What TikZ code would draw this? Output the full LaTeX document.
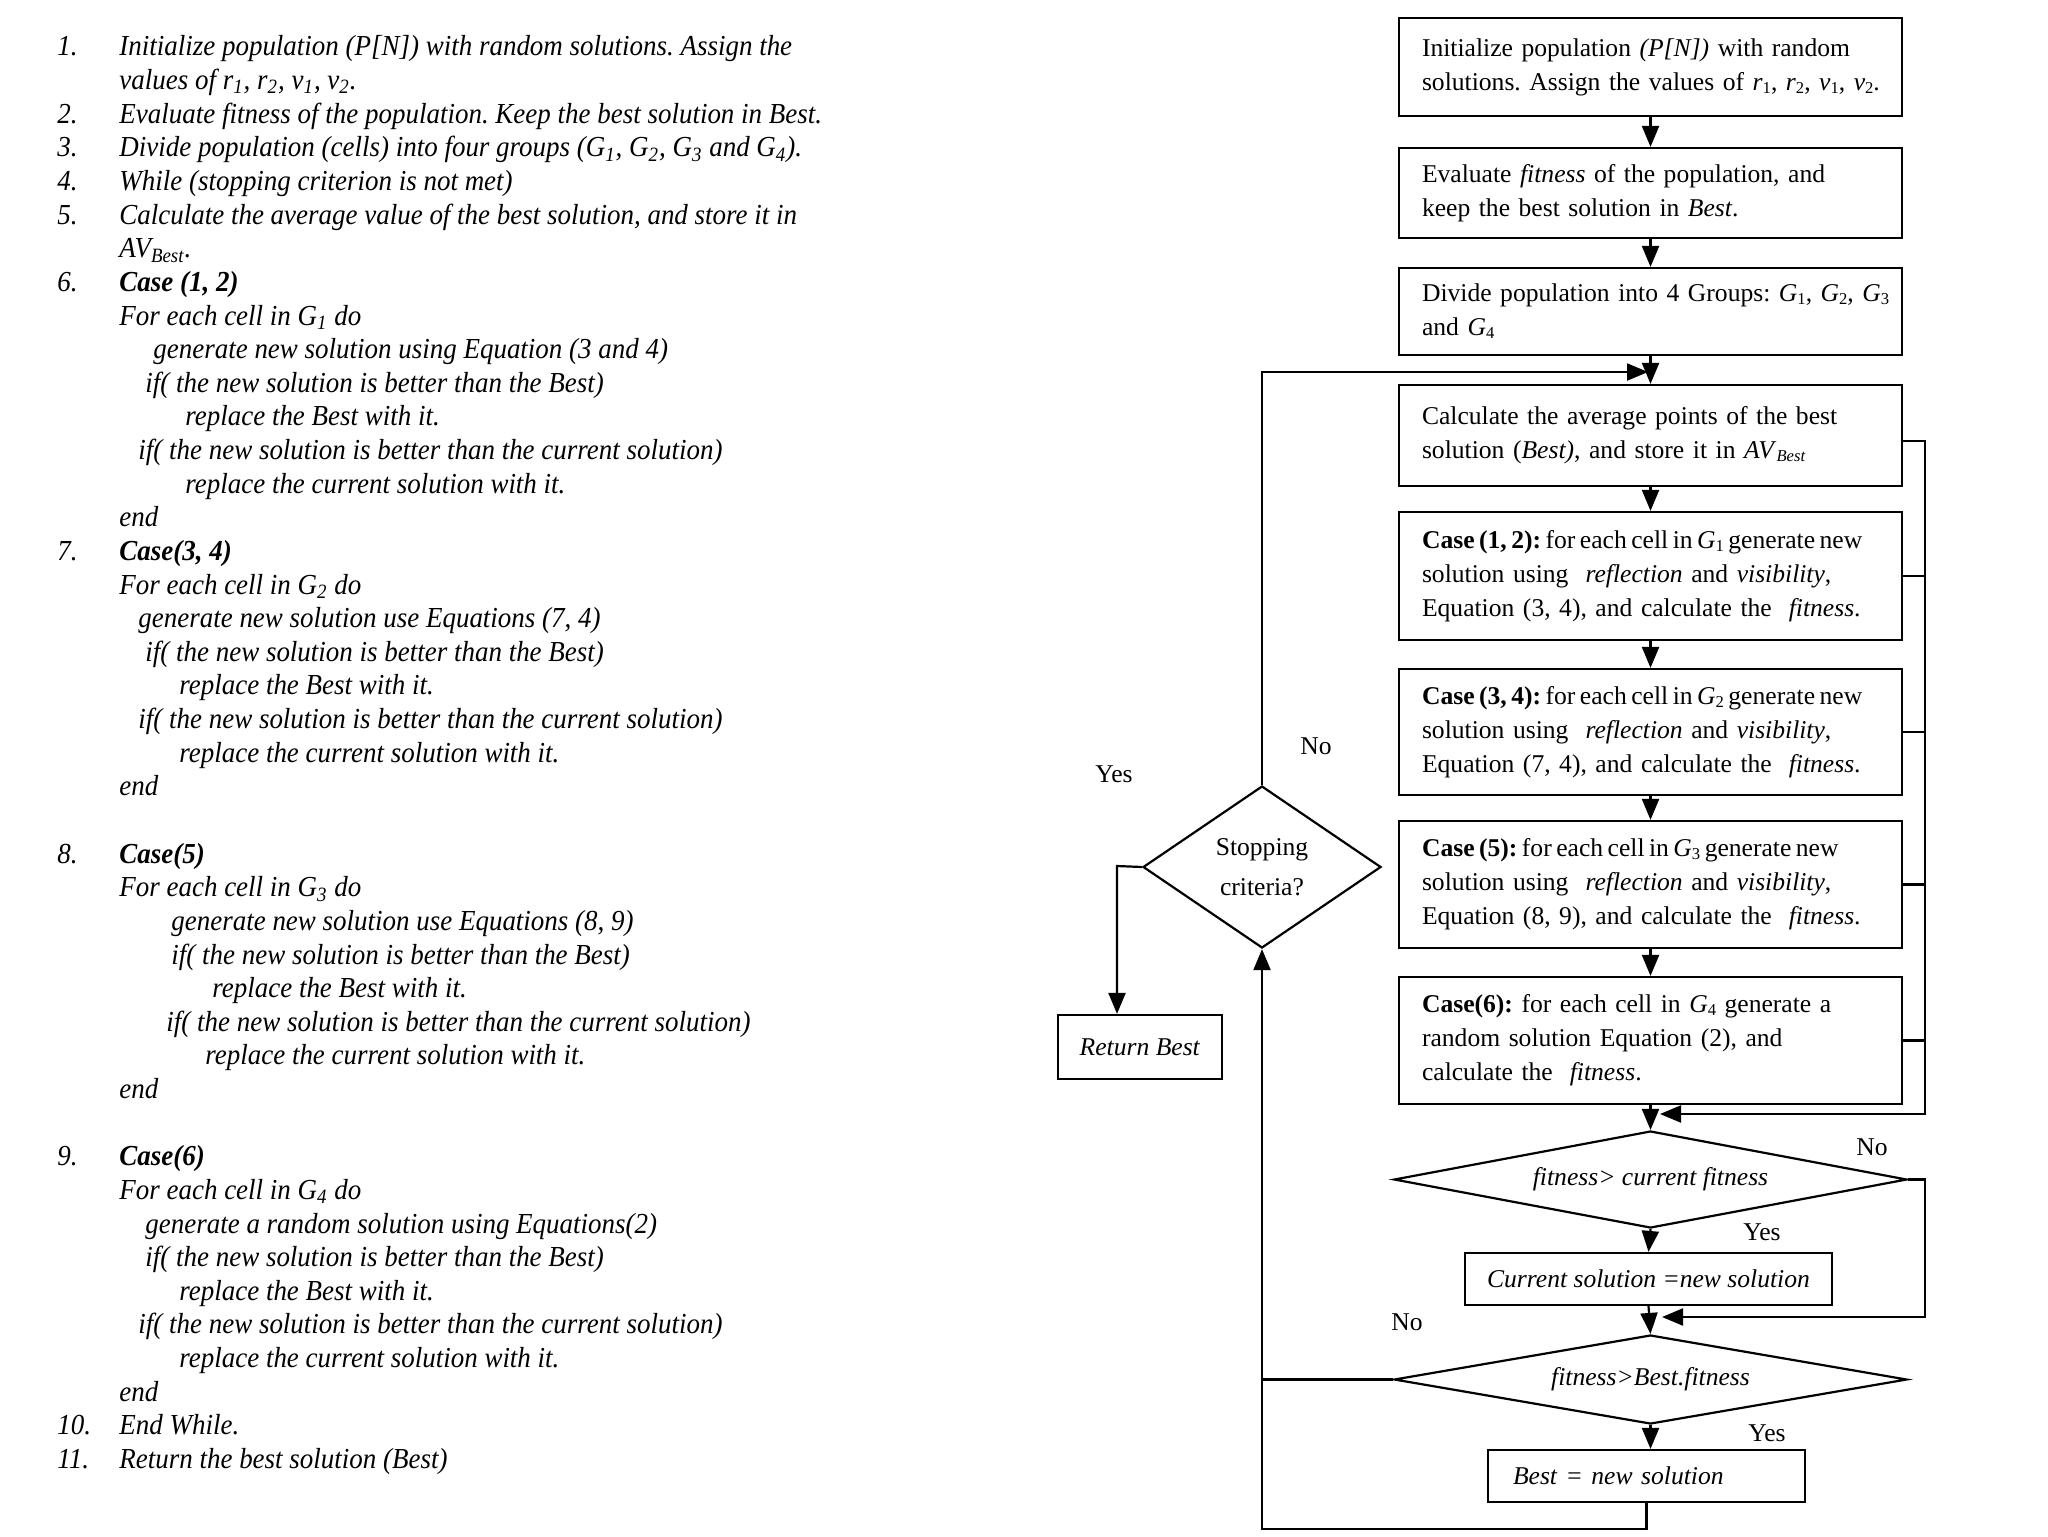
\documentclass[tikz,border=0pt]{standalone}
\usepackage{fontspec}
\setmainfont{Liberation Serif}
\newfontfamily\algfont[FakeStretch=0.93]{Liberation Serif}
\usetikzlibrary{arrows.meta,shapes.geometric}
\frenchspacing
\newcommand\zl[1]{\leavevmode\rlap{#1}}
\newcommand\tl[1]{\leavevmode\rlap{\spaceskip=0.7\fontdimen2\font plus 0.1\fontdimen2\font\relax #1}}
\newcommand\sbs[1]{\raisebox{-0.25ex}{\fontsize{8.3}{9}\selectfont #1}}
\newcommand\AL[3]{\node[alg] (l#1) at (#2,{56+33.63*#1}) {#3};}
\newcommand\AN[2]{\node[alg] (n#1) at (57,{56+33.63*#1}) {#2};}
\tikzset{
  alg/.style={font=\algfont\fontsize{14.5}{16.8}\selectfont\itshape, inner sep=0pt, anchor=base west},
  fc/.style={font=\fontsize{12.8}{17}\selectfont},
  box/.style={fc, draw, line width=1.1pt, text width=228.5pt, inner xsep=11.5pt, align=left},
  sbox/.style={fc, draw, line width=1.1pt, align=center},
  dia/.style={fc, draw, diamond, inner sep=0pt, line width=1.1pt, align=center},
  lab/.style={fc, inner sep=0pt},
  arr/.style={line width=1.1pt, -{Triangle[length=10.5pt,width=8.5pt]}},
  ln/.style={line width=1.1pt},
}
\begin{document}
\begin{tikzpicture}[x=0.5pt,y=-0.5pt]
\useasboundingbox (0,0) rectangle (2048,1536);
\fill[white] (0,0) rectangle (2048,1536);

% ---------------- left: algorithm text ----------------
\AN{0}{1.}\AL{0}{119}{Initialize population (P[N]) with random solutions. Assign the}
\AL{1}{119}{values of r\textsubscript{1}, r\textsubscript{2}, v\textsubscript{1}, v\textsubscript{2}.}
\AN{2}{2.}\AL{2}{119}{Evaluate fitness of the population. Keep the best solution in Best.}
\AN{3}{3.}\AL{3}{119}{Divide population (cells) into four groups (G\textsubscript{1}, G\textsubscript{2}, G\textsubscript{3} and G\textsubscript{4}).}
\AN{4}{4.}\AL{4}{119}{While (stopping criterion is not met)}
\AN{5}{5.}\AL{5}{119}{Calculate the average value of the best solution, and store it in}
\AL{6}{119}{AV\textsubscript{Best}.}
\AN{7}{6.}\AL{7}{119}{\bfseries Case (1, 2)}
\AL{8}{119}{For each cell in G\textsubscript{1} do}
\AL{9}{153}{generate new solution using Equation (3 and 4)}
\AL{10}{145}{if( the new solution is better than the Best)}
\AL{11}{185}{replace the Best with it.}
\AL{12}{138}{if( the new solution is better than the current solution)}
\AL{13}{185}{replace the current solution with it.}
\AL{14}{119}{end}
\AN{15}{7.}\AL{15}{119}{\bfseries Case(3, 4)}
\AL{16}{119}{For each cell in G\textsubscript{2} do}
\AL{17}{138}{generate new solution use Equations (7, 4)}
\AL{18}{145}{if( the new solution is better than the Best)}
\AL{19}{179}{replace the Best with it.}
\AL{20}{138}{if( the new solution is better than the current solution)}
\AL{21}{179}{replace the current solution with it.}
\AL{22}{119}{end}
\AN{24}{8.}\AL{24}{119}{\bfseries Case(5)}
\AL{25}{119}{For each cell in G\textsubscript{3} do}
\AL{26}{171}{generate new solution use Equations (8, 9)}
\AL{27}{171}{if( the new solution is better than the Best)}
\AL{28}{212}{replace the Best with it.}
\AL{29}{166}{if( the new solution is better than the current solution)}
\AL{30}{205}{replace the current solution with it.}
\AL{31}{119}{end}
\AN{33}{9.}\AL{33}{119}{\bfseries Case(6)}
\AL{34}{119}{For each cell in G\textsubscript{4} do}
\AL{35}{145}{generate a random solution using Equations(2)}
\AL{36}{145}{if( the new solution is better than the Best)}
\AL{37}{179}{replace the Best with it.}
\AL{38}{138}{if( the new solution is better than the current solution)}
\AL{39}{179}{replace the current solution with it.}
\AL{40}{119}{end}
\AN{41}{10.}\AL{41}{119}{End While.}
\AN{42}{11.}\AL{42}{119}{Return the best solution (Best)}

% ---------------- right: flowchart ----------------
\node[box, minimum height=49pt] (b1) at (1650.5,67)
  {\zl{Initialize population \textit{(P[N])} with random}\\
   \zl{solutions. Assign the values of \textit{r}\sbs{1}, \textit{r}\sbs{2}, \textit{v}\sbs{1}, \textit{v}\sbs{2}.}};
\node[box, minimum height=45pt] (b2) at (1650.5,193)
  {\zl{Evaluate \textit{fitness} of the population, and}\\
   \zl{keep the best solution in \textit{Best}.}};
\node[box, minimum height=43.5pt] (b3) at (1650.5,311.5)
  {\zl{Divide population into 4 Groups: \textit{G}\sbs{1}, \textit{G}\sbs{2}, \textit{G}\sbs{3}}\\
   \zl{and \textit{G}\sbs{4}}};
\node[box, minimum height=50.5pt] (b4) at (1650.5,435.5)
  {\zl{Calculate the average points of the best}\\
   \zl{solution (\textit{Best)}, and store it in \textit{AV}\sbs{\textit{Best}}}};
\node[box, minimum height=64pt] (b5) at (1650.5,576)
  {\tl{\textbf{Case (1, 2):} for each cell in \textit{G}\sbs{1} generate new}\\
   \zl{solution using \ \textit{reflection} and \textit{visibility},}\\
   \zl{Equation (3, 4), and calculate the \ \textit{fitness}.}};
\node[box, minimum height=63pt] (b6) at (1650.5,732)
  {\tl{\textbf{Case (3, 4):} for each cell in \textit{G}\sbs{2} generate new}\\
   \zl{solution using \ \textit{reflection} and \textit{visibility},}\\
   \zl{Equation (7, 4), and calculate the \ \textit{fitness}.}};
\node[box, minimum height=63.5pt] (b7) at (1650.5,884.5)
  {\tl{\textbf{Case (5):} for each cell in \textit{G}\sbs{3} generate new}\\
   \zl{solution using \ \textit{reflection} and \textit{visibility},}\\
   \zl{Equation (8, 9), and calculate the \ \textit{fitness}.}};
\node[box, minimum height=63.5pt] (b8) at (1650.5,1040.5)
  {\zl{\textbf{Case(6):} for each cell in \textit{G}\sbs{4} generate a}\\
   \zl{random solution Equation (2), and}\\
   \zl{calculate the \ \textit{fitness}.}};

\node[dia, minimum width=256.5pt, minimum height=48.5pt, aspect=5.3] (d1) at (1650.5,1179.5)
  {\textit{fitness> current fitness}};
\node[sbox, minimum width=183.5pt, minimum height=26pt] (cur) at (1648.5,1279)
  {\textit{Current solution =new solution}};
\node[dia, minimum width=256.5pt, minimum height=44.5pt, aspect=5.7] (d2) at (1650.5,1379.5)
  {\textit{fitness>Best.fitness}};
\node[fc, draw, line width=1.1pt, minimum height=26pt, text width=133.5pt, inner xsep=12.5pt, align=left] (best) at (1646.5,1476)
  {\textit{Best = new solution}};

\node[dia, minimum width=119pt, minimum height=81pt, aspect=1.47, font=\fontsize{12.8}{20}\selectfont] (stop) at (1262,867)
  {Stopping\\criteria?};
\node[sbox, minimum width=82pt, minimum height=32pt] (ret) at (1140,1047)
  {\textit{Return Best}};

% labels
\node[lab] (yes0) at (1114,774) {Yes};
\node[lab] (no0) at (1316,746) {No};
\node[lab] (no1) at (1872,1147) {No};
\node[lab] (yes1) at (1762,1232) {Yes};
\node[lab] (no2) at (1407,1322) {No};
\node[lab] (yes2) at (1767,1433) {Yes};

% helper coordinates
\coordinate (lt) at (1648,372);
\coordinate (r4) at (1925,441);
\coordinate (m1) at (1925,1114);
\coordinate (m1t) at (1660,1114);
\coordinate (m2) at (1925,1317);
\coordinate (m2t) at (1662,1317);
\coordinate (bl) at (1262,1529);
\coordinate (sl) at (1117,866);

% main chain
\draw[arr] (b1.south) -- (b2.north);
\draw[arr] (b2.south) -- (b3.north);
\draw[arr] (b3.south) -- (b4.north);
\draw[arr] (b4.south) -- (b5.north);
\draw[arr] (b5.south) -- (b6.north);
\draw[arr] (b6.south) -- (b7.north);
\draw[arr] (b7.south) -- (b8.north);
\draw[arr] (b8.south) -- (d1.north);

% right collector
\draw[arr] (b4.east |- r4) -- (r4) -- (m1) -- (m1t);
\draw[ln] (b5.east) -- (b5.east -| m1);
\draw[ln] (b6.east) -- (b6.east -| m1);
\draw[ln] (b7.east) -- (b7.east -| m1);
\draw[ln] (b8.east) -- (b8.east -| m1);

% decisions
\draw[arr] (d1.south) -- (cur.north);
\draw[arr] (d1.east) -| (m2) -- (m2t);
\draw[arr] (cur.south) -- (d2.north);
\draw[arr] (d2.south) -- (d2.south |- best.north);
\draw[ln] (d2.west) -- (d2.west -| bl);
\draw[arr] (best.south) |- (bl) -- (stop.south);

% stopping
\draw[arr] (stop.north) |- (lt);
\draw[arr] (stop.west) -- (sl) -- (sl |- ret.north);
\end{tikzpicture}
\end{document}
